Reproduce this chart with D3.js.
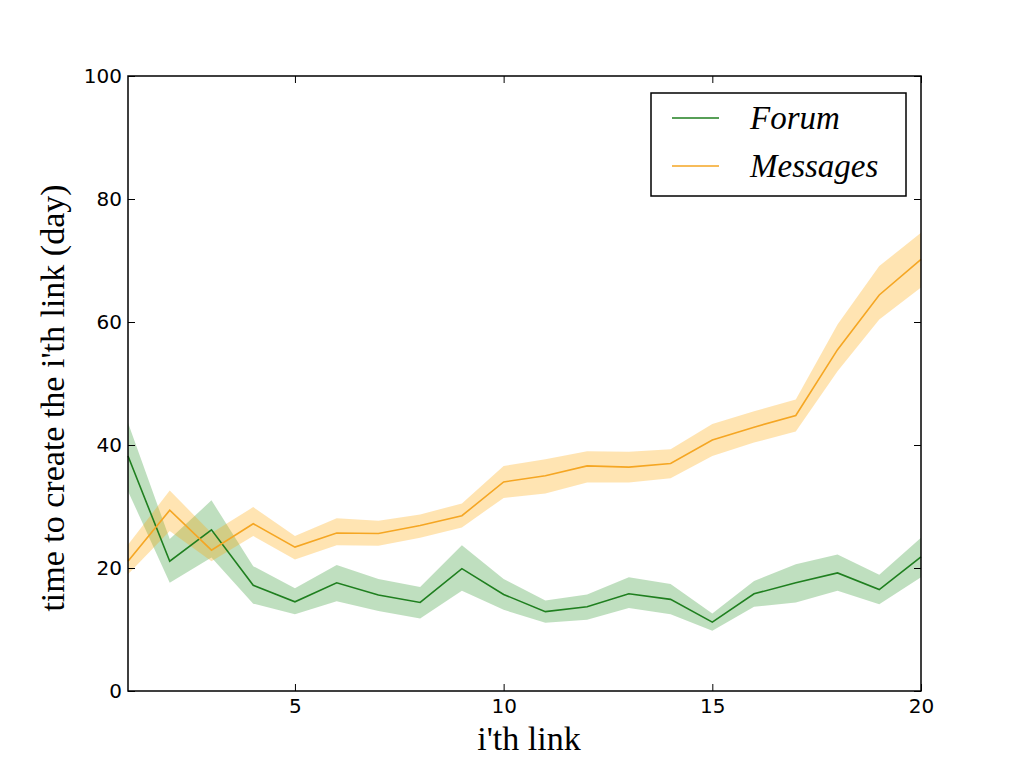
<!DOCTYPE html>
<html>
<head>
<meta charset="utf-8">
<script src="https://cdn.jsdelivr.net/npm/d3@7"></script>
<style>
  body { margin: 0; background: #fff; }
</style>
</head>
<body>
<div id="chart"></div>
<script>
const links = d3.range(1, 21);

const forumMean = [38.2, 21.1, 26.2, 17.2, 14.5, 17.6, 15.6, 14.4, 19.9, 15.7,
  12.9, 13.7, 15.8, 14.9, 11.2, 15.8, 17.6, 19.2, 16.5, 21.8];
const forumHigh = [43.6, 24.7, 31.0, 20.3, 16.7, 20.5, 18.2, 16.9, 23.7, 18.2,
  14.7, 15.7, 18.5, 17.4, 12.6, 17.9, 20.6, 22.2, 18.9, 24.9];
const forumLow = [32.5, 17.6, 21.7, 14.2, 12.5, 14.6, 13.0, 11.8, 16.3, 13.2,
  11.1, 11.6, 13.5, 12.5, 9.8, 13.7, 14.4, 16.3, 14.1, 18.5];

const msgMean = [21.1, 29.4, 22.9, 27.2, 23.4, 25.7, 25.6, 26.9, 28.5, 34.0,
  35.0, 36.6, 36.4, 37.0, 40.8, 42.9, 44.8, 55.5, 64.4, 70.2];
const msgHigh = [23.8, 32.6, 25.7, 29.9, 25.2, 28.1, 27.7, 28.7, 30.5, 36.6,
  37.7, 39.0, 38.9, 39.3, 43.4, 45.5, 47.4, 59.6, 69.1, 74.5];
const msgLow = [19.0, 26.0, 21.1, 25.2, 21.4, 23.7, 23.6, 24.9, 26.6, 31.4,
  32.1, 33.9, 33.9, 34.6, 38.2, 40.4, 42.2, 52.0, 60.4, 65.6];

const xTicks = [5, 10, 15, 20];
const yTicks = [0, 20, 40, 60, 80, 100];

const MARGIN = { TOP: 76, BOTTOM: 77, LEFT: 128, RIGHT: 103 };
const WIDTH = 1024 - MARGIN.LEFT - MARGIN.RIGHT,
  HEIGHT = 768 - MARGIN.TOP - MARGIN.BOTTOM;

const svg = d3.select("#chart")
  .append("svg")
  .attr("width", 1024)
  .attr("height", 768);

const g = svg.append("g")
  .attr("transform", `translate(${MARGIN.LEFT}, ${MARGIN.TOP})`);

const x = d3.scaleLinear().domain([1, 20]).range([0, WIDTH]);
const y = d3.scaleLinear().domain([0, 100]).range([HEIGHT, 0]);

const series = [
  { name: "Forum", color: "#1f7f1f", fill: "rgba(0,128,0,0.25)", mean: forumMean, low: forumLow, high: forumHigh },
  { name: "Messages", color: "#f5a623", fill: "rgba(255,165,0,0.3)", mean: msgMean, low: msgLow, high: msgHigh }
];

const area = d3.area()
  .x((d, i) => x(links[i]))
  .y0((d, i) => y(d[0]))
  .y1((d, i) => y(d[1]));

const line = d3.line()
  .x((d, i) => x(links[i]))
  .y(d => y(d));

// bands first, then lines
series.forEach(s => {
  g.append("path")
    .datum(s.low.map((v, i) => [v, s.high[i]]))
    .attr("fill", s.fill)
    .attr("stroke", "none")
    .attr("d", area);
});
series.forEach(s => {
  g.append("path")
    .datum(s.mean)
    .attr("fill", "none")
    .attr("stroke", s.color)
    .attr("stroke-width", 1.6)
    .attr("d", line);
});

// axes (ticks inward, on all four sides)
const tl = 7;
g.append("g")
  .attr("transform", `translate(0, ${HEIGHT})`)
  .call(d3.axisBottom(x).tickValues(xTicks).tickSizeInner(-tl).tickSizeOuter(0).tickPadding(8))
  .call(a => a.select(".domain").remove());
g.append("g")
  .call(d3.axisTop(x).tickValues(xTicks).tickSizeInner(-tl).tickSizeOuter(0).tickFormat(""))
  .call(a => a.select(".domain").remove());
g.append("g")
  .call(d3.axisLeft(y).tickValues(yTicks).tickSizeInner(-tl).tickSizeOuter(0).tickPadding(6))
  .call(a => a.select(".domain").remove());
g.append("g")
  .attr("transform", `translate(${WIDTH}, 0)`)
  .call(d3.axisRight(y).tickValues(yTicks).tickSizeInner(-tl).tickSizeOuter(0).tickFormat(""))
  .call(a => a.select(".domain").remove());

g.selectAll(".tick line").attr("stroke", "#000").attr("stroke-width", 1);
g.selectAll(".tick text")
  .attr("fill", "#000")
  .style("font-family", "'DejaVu Sans', sans-serif")
  .style("font-size", "20px");

g.append("rect")
  .attr("width", WIDTH)
  .attr("height", HEIGHT)
  .attr("fill", "none")
  .attr("stroke", "#000")
  .attr("stroke-width", 1.5);

// axis labels
svg.append("text")
  .attr("x", 529)
  .attr("y", 750)
  .attr("text-anchor", "middle")
  .style("font-family", "'Liberation Serif', serif")
  .style("font-size", "34px")
  .text("i'th link");

svg.append("text")
  .attr("transform", `translate(64, 398) rotate(-90)`)
  .attr("text-anchor", "middle")
  .style("font-family", "'Liberation Serif', serif")
  .style("font-size", "34px")
  .text("time to create the i'th link (day)");

// legend
const legend = svg.append("g").attr("transform", "translate(651, 93)");
legend.append("rect")
  .attr("width", 255)
  .attr("height", 103)
  .attr("fill", "#fff")
  .attr("stroke", "#000")
  .attr("stroke-width", 1.5);
series.forEach((s, i) => {
  const yy = 25 + i * 48;
  legend.append("line")
    .attr("x1", 21).attr("x2", 68)
    .attr("y1", yy).attr("y2", yy)
    .attr("stroke", s.color)
    .attr("stroke-width", 1.6);
  legend.append("text")
    .attr("x", 99)
    .attr("y", yy + 11)
    .style("font-family", "'Liberation Serif', serif")
    .style("font-style", "italic")
    .style("font-size", "33px")
    .text(s.name);
});
</script>
</body>
</html>
